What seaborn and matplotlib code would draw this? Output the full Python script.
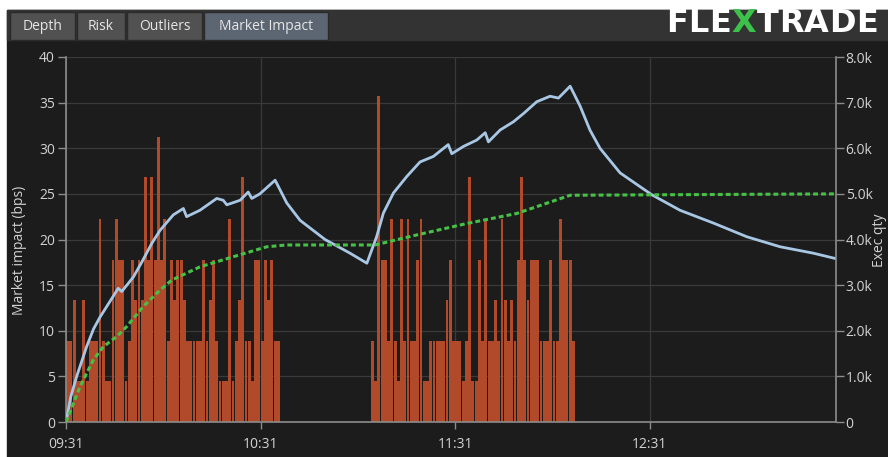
import numpy as np
import matplotlib
matplotlib.use("Agg")
import matplotlib.pyplot as plt
from matplotlib.patches import Rectangle
import seaborn as sns

W, H = 888, 457
BG = "#1c1c1c"
GRID = "#3a3a3a"
AXIS = "#8c8c8c"
TXT = "#d2d2d2"

tab_labels = ["Depth", "Risk", "Outliers", "Market Impact"]
time_ticks = [0, 60, 120, 180]
time_labels = ["09:31", "10:31", "11:31", "12:31"]

# market impact (bps) vs minutes after 09:31
impact_min = [0, 1.5, 3.3, 6.4, 8.5, 10.5, 14.6, 16.1, 17.2, 20.8, 23.5, 26.5, 29.0,
              33.1, 36.2, 37.2, 41.3, 46.5, 48.5, 49.6, 53.7, 56.2, 57.3, 59.8, 64.5,
              68.1, 72.2, 79.9, 87.6, 92.8, 95.8, 97.9, 101.0, 105.1, 109.2, 113.3,
              117.9, 119.0, 122.6, 126.7, 129.3, 130.3, 133.9, 138.0, 141.1, 145.2,
              149.3, 151.9, 155.5, 158.6, 161.6, 164.7, 170.9, 180.7, 189.4, 199.7,
              210.0, 220.3, 230.5, 237.5]
impact_bps = [0, 2.8, 5.0, 8.3, 10.2, 11.5, 13.8, 14.65, 14.3, 15.9, 17.6, 19.6, 21.0,
              22.7, 23.4, 22.5, 23.2, 24.5, 24.3, 23.8, 24.3, 25.2, 24.5, 25.0, 26.5,
              24.0, 22.1, 20.0, 18.5, 17.4, 20.3, 22.9, 25.1, 26.9, 28.5, 29.1,
              30.4, 29.4, 30.2, 30.9, 31.7, 30.7, 32.0, 32.9, 33.8, 35.1,
              35.7, 35.5, 36.8, 34.6, 32.0, 30.0, 27.3, 24.9, 23.2, 21.8,
              20.3, 19.2, 18.5, 17.9]

# executed quantity (right axis)
qty_min = [0, 4.3, 8.4, 11.5, 15.6, 18.7, 23.8, 29.0, 32.6, 41.3, 51.5, 61.9, 68.0,
           95.3, 108.2, 123.6, 139.0, 155.5, 237.5]
qty_exec = [0, 770, 1360, 1650, 1870, 2090, 2530, 2890, 3110, 3400, 3620, 3840, 3880,
            3880, 4100, 4350, 4570, 4970, 5000]

# per-minute fills (bps scale), morning and late-morning sessions
fill_bps_am = [8.9, 8.9, 13.4, 4.5, 4.5, 13.4, 4.5, 8.9, 8.9, 8.9, 22.3, 8.9, 4.5, 4.5,
               17.8, 22.3, 17.8, 17.8, 4.5, 8.9, 17.8, 13.4, 17.8, 13.4, 26.8, 17.8,
               26.8, 17.8, 31.2, 17.8, 22.3, 8.9, 17.8, 13.4, 17.8, 17.8, 13.4, 8.9,
               8.9, 8.9, 8.9, 8.9, 17.8, 8.9, 13.4, 17.8, 8.9, 4.5, 4.5, 4.5, 22.3,
               4.5, 8.9, 13.4, 26.8, 8.9, 8.9, 4.5, 17.8, 17.8, 8.9, 17.8, 13.4, 17.8,
               8.9, 8.9]
fill_bps_pm = [8.9, 4.5, 35.7, 17.8, 17.8, 8.9, 22.3, 8.9, 4.5, 22.3, 8.9, 22.3, 8.9,
               8.9, 17.8, 22.3, 4.5, 4.5, 8.9, 8.9, 8.9, 8.9, 8.9, 13.4, 17.8, 8.9,
               8.9, 8.9, 4.5, 8.9, 26.8, 4.5, 4.5, 17.8, 8.9, 22.3, 8.9, 8.9, 13.4,
               8.9, 22.3, 13.4, 8.9, 13.4, 8.9, 17.8, 26.8, 17.8, 13.4, 17.8, 17.8,
               17.8, 8.9, 8.9, 8.9, 17.8, 8.9, 8.9, 22.3, 17.8, 17.8, 17.8, 8.9]
fill_min = np.concatenate([np.arange(len(fill_bps_am)) + 0.5,
                           np.arange(len(fill_bps_pm)) + 94.5])
fill_bps = fill_bps_am + fill_bps_pm

sns.set_theme(style="dark", rc={
    "axes.facecolor": BG, "figure.facecolor": "white", "axes.edgecolor": AXIS,
    "text.color": TXT, "xtick.color": TXT, "ytick.color": TXT,
    "axes.labelcolor": TXT, "grid.color": GRID,
})
plt.rcParams["font.family"] = ["Open Sans", "DejaVu Sans"]

fig = plt.figure(figsize=(W / 100, H / 100), dpi=100)

# dark panel + tab strip
fig.add_artist(Rectangle((7 / W, 0), 1, (H - 10) / H, transform=fig.transFigure,
                         color=BG, zorder=-10))
fig.add_artist(Rectangle((7 / W, (H - 40) / H), 1, 30 / H, transform=fig.transFigure,
                         color="#333333", zorder=-9))
tab_spans = [(10, 75), (77, 125), (127, 202), (204, 328)]
for lab, (x0, x1) in zip(tab_labels, tab_spans):
    active = lab == "Market Impact"
    fig.add_artist(Rectangle((x0 / W, (H - 40) / H), (x1 - x0) / W, 28 / H,
                             transform=fig.transFigure, zorder=-8,
                             facecolor="#5c6672" if active else "#515151",
                             edgecolor="#2a2a2a", lw=1))
    fig.text((x0 + x1) / 2 / W, 1 - 27 / H, lab, ha="center", va="center",
             fontsize=10, color="#e6e6e6")

ax = fig.add_axes([66 / W, 35 / H, 770 / W, 365 / H])

sns.barplot(x=fill_min, y=fill_bps, native_scale=True, ax=ax, color="#b04a2a",
            saturation=1, width=0.88, errorbar=None, zorder=2,
            edgecolor="none", linewidth=0)
sns.lineplot(x=impact_min, y=impact_bps, ax=ax, color="#a8c7e4", linewidth=2.0,
             zorder=4)

ax2 = ax.twinx()
sns.lineplot(x=qty_min, y=qty_exec, ax=ax2, color="#46c046", linewidth=2.2,
             linestyle=(0, (1.6, 1.0)))

ax.set_xlim(0, 237.5)
ax.set_ylim(0, 40)
ax2.set_ylim(0, 8000)
ax.set_xticks(time_ticks, time_labels)
ax.set_yticks(range(0, 41, 5))
qty_ticks = list(range(0, 8001, 1000))
ax2.set_yticks(qty_ticks, ["0"] + [f"{v / 1000:.1f}k" for v in qty_ticks[1:]])
ax.set_xlabel("")
ax.set_ylabel("")
ax2.set_ylabel("")

ax.grid(True, color=GRID, linewidth=0.9)
ax.set_axisbelow(True)
for sp in ["top", "right"]:
    ax.spines[sp].set_visible(False)
for sp in ["top", "left", "bottom"]:
    ax2.spines[sp].set_visible(False)
for a in (ax, ax2):
    for sp in a.spines.values():
        sp.set_color(AXIS)
        sp.set_linewidth(1.2)

ax.tick_params(axis="y", left=True, length=6, width=1, color=AXIS, labelsize=10,
               labelcolor=TXT, pad=2)
ax.tick_params(axis="x", bottom=True, length=5, width=1, color=AXIS, labelsize=10,
               labelcolor=TXT, pad=6)
ax2.tick_params(axis="y", right=True, length=6, width=1, color=AXIS, labelsize=10,
                labelcolor=TXT, pad=1)

fig.text(20 / W, 1 - 250 / H, "Market impact (bps)", rotation=90, ha="center",
         va="center", fontsize=10, color=TXT)
fig.text(879 / W, 1 - 240 / H, "Exec qty", rotation=90, ha="center", va="center",
         fontsize=10, color=TXT)

# logo, letter by letter
renderer = fig.canvas.get_renderer()
x = 666 / W
for ch in "FLEXTRADE":
    t = fig.text(x, 1 - 24 / H, ch, ha="left", va="center", fontsize=23,
                 fontweight="heavy", family="DejaVu Sans",
                 color="#3cc24a" if ch == "X" else "white")
    x += (t.get_window_extent(renderer).width + 0.5) / W

fig.savefig("out.png", dpi=100)
